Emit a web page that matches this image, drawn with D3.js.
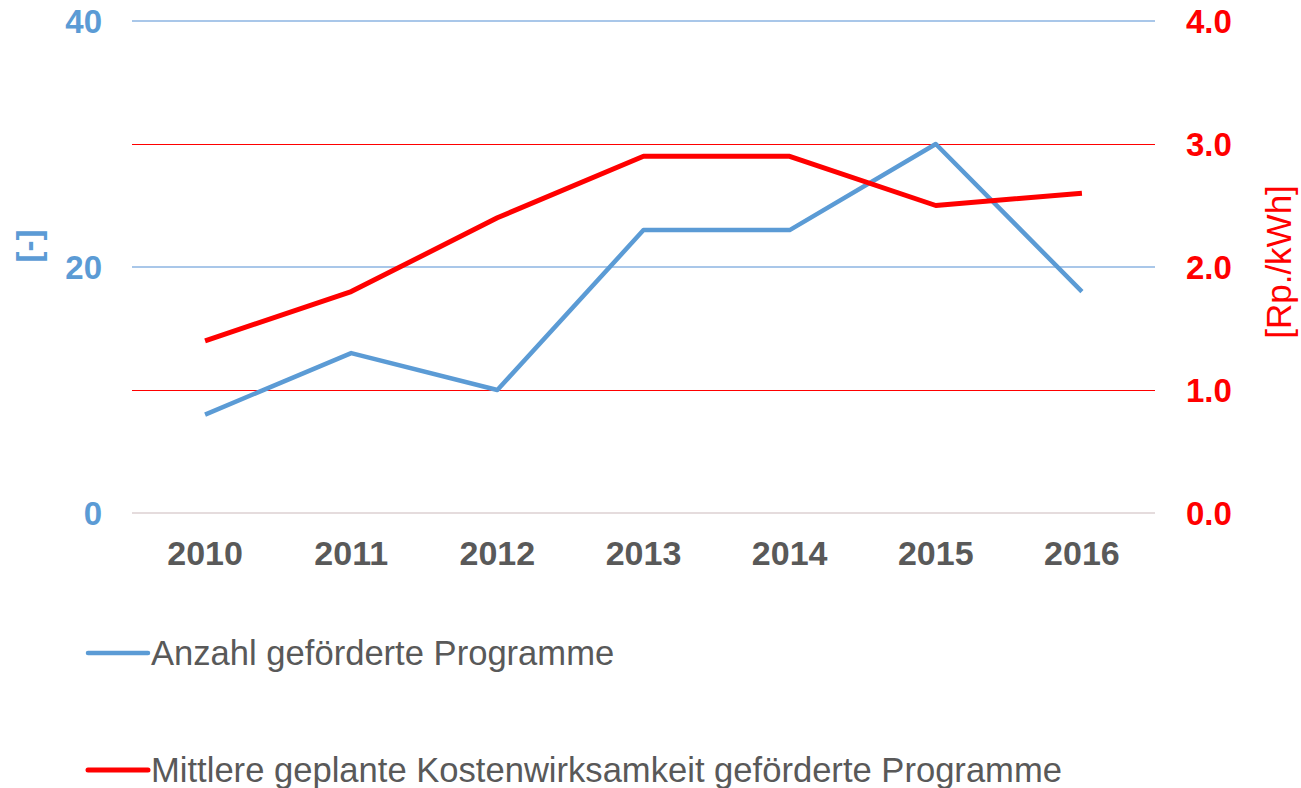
<!DOCTYPE html>
<html>
<head>
<meta charset="utf-8">
<script src="https://cdn.jsdelivr.net/npm/d3@7"></script>
<style>
  body { margin: 0; background: #fff; }
  svg { font-family: "Liberation Sans", Arial, sans-serif; }
</style>
</head>
<body>
<div id="chart"></div>
<script>
// data
const years = ["2010", "2011", "2012", "2013", "2014", "2015", "2016"];
const anzahl = [8, 13, 10, 23, 23, 30, 18];
const kosten = [1.4, 1.8, 2.4, 2.9, 2.9, 2.5, 2.6];
const leftTicks = [0, 20, 40];
const rightTicks = [0, 1, 2, 3, 4];
const seriesNames = ["Anzahl geförderte Programme", "Mittlere geplante Kostenwirksamkeit geförderte Programme"];

const width = 1301, height = 788;
const blue = "#5b9bd5", red = "#ff0000", grey = "#595959";

const svg = d3.select("#chart").append("svg")
    .attr("width", width)
    .attr("height", height);

const x = d3.scaleBand().domain(years).range([132, 1155]);
const yL = d3.scaleLinear().domain([0, 40]).range([513, 21]);
const yR = d3.scaleLinear().domain([0, 4]).range([513, 21]);

// gridlines (red ones first, blue ones on top)
svg.append("g").attr("class", "grid-red").selectAll("line")
    .data([1, 3])
    .join("line")
    .attr("x1", 132).attr("x2", 1155)
    .attr("y1", d => yR(d) + 0.5).attr("y2", d => yR(d) + 0.5)
    .attr("stroke", red).attr("stroke-width", 1);

svg.append("g").attr("class", "grid-blue").selectAll("line")
    .data([20, 40])
    .join("line")
    .attr("x1", 132).attr("x2", 1155)
    .attr("y1", d => yL(d)).attr("y2", d => yL(d))
    .attr("stroke", "#8db4e2").attr("stroke-width", 1.3);

svg.append("line")
    .attr("x1", 132).attr("x2", 1155)
    .attr("y1", yL(0)).attr("y2", yL(0))
    .attr("stroke", "#dcd0d2").attr("stroke-width", 1.3);

// left axis labels
svg.append("g").selectAll("text")
    .data(leftTicks)
    .join("text")
    .attr("x", 102).attr("y", d => yL(d) + 12)
    .attr("text-anchor", "end")
    .attr("fill", blue)
    .style("font-size", "33px").style("font-weight", "bold")
    .text(d => d);

// right axis labels
svg.append("g").selectAll("text")
    .data(rightTicks)
    .join("text")
    .attr("x", 1186).attr("y", d => yR(d) + 12)
    .attr("fill", red)
    .style("font-size", "33px").style("font-weight", "bold")
    .text(d => d3.format(".1f")(d));

// x labels
svg.append("g").selectAll("text")
    .data(years)
    .join("text")
    .attr("x", d => x(d) + x.bandwidth() / 2).attr("y", 565)
    .attr("text-anchor", "middle")
    .attr("fill", grey)
    .style("font-size", "34px").style("font-weight", "bold")
    .text(d => d);

// axis titles
svg.append("text")
    .attr("transform", "translate(40,246) rotate(-90)")
    .attr("text-anchor", "middle")
    .attr("fill", blue)
    .style("font-size", "33px").style("font-weight", "bold")
    .text("[-]");

svg.append("text")
    .attr("transform", "translate(1291,262) rotate(-90)")
    .attr("text-anchor", "middle")
    .attr("fill", red)
    .style("font-size", "35px")
    .text("[Rp./kWh]");

// lines
const lineL = d3.line()
    .x((d, i) => x(years[i]) + x.bandwidth() / 2)
    .y(d => yL(d));
const lineR = d3.line()
    .x((d, i) => x(years[i]) + x.bandwidth() / 2)
    .y(d => yR(d));

svg.append("path")
    .datum(anzahl)
    .attr("d", lineL)
    .attr("fill", "none")
    .attr("stroke", blue).attr("stroke-width", 4.5)
    .attr("stroke-linejoin", "round");

svg.append("path")
    .datum(kosten)
    .attr("d", lineR)
    .attr("fill", "none")
    .attr("stroke", red).attr("stroke-width", 5)
    .attr("stroke-linejoin", "round");

// legend
const legend = svg.append("g");
const legendY = [653, 770];
const legendCol = [blue, red];
seriesNames.forEach(function (name, i) {
    legend.append("line")
        .attr("x1", 88).attr("x2", 148)
        .attr("y1", legendY[i]).attr("y2", legendY[i])
        .attr("stroke", legendCol[i]).attr("stroke-width", i == 0 ? 4.5 : 5)
        .attr("stroke-linecap", "round");
    legend.append("text")
        .attr("x", 151).attr("y", legendY[i] + 12)
        .attr("fill", grey)
        .style("font-size", "34.6px")
        .text(name);
});
</script>
</body>
</html>
